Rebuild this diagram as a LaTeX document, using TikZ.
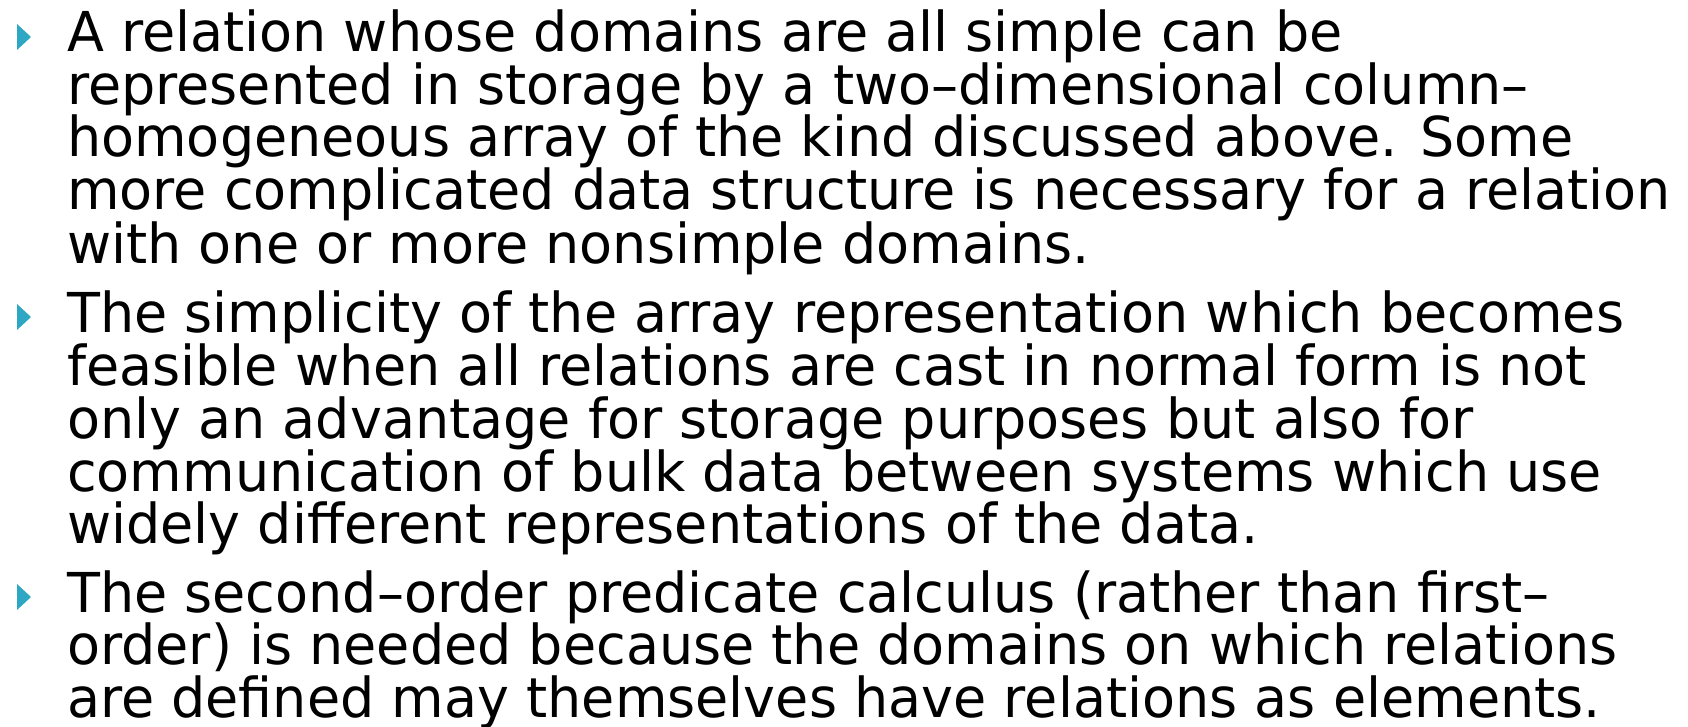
\documentclass[tikz,border=0pt]{standalone}
\usepackage{fontspec}
\setmainfont[FakeStretch=0.981]{DejaVu Sans}
\usepackage{tikz}
\definecolor{bullet}{HTML}{2EA7C4}

\begin{document}
\begin{tikzpicture}[x=1pt,y=-1pt]
    \tikzset{
        txt/.style={anchor=base west,inner sep=0pt,font=\fontsize{55}{60}\selectfont}
    }
    \useasboundingbox (0,0) rectangle (1688,727);
    % bullets
    \fill[bullet] (17,24) -- (31,37) -- (17,50) -- cycle;
    \fill[bullet] (17,304) -- (31,317) -- (17,330) -- cycle;
    \fill[bullet] (17,584) -- (31,597) -- (17,610) -- cycle;
    % first point
    \node[txt] at(67,52)(a1){A relation whose domains are all simple can be};
    \node[txt] at(67,105)(a2){represented in storage by a two–dimensional column–};
    \node[txt] at(67,157)(a3){homogeneous array of the kind discussed above. Some};
    \node[txt] at(67,210)(a4){more complicated data structure is necessary for a relation};
    \node[txt] at(67,263)(a5){with one or more nonsimple domains.};
    % second point
    \node[txt] at(67,332)(b1){The simplicity of the array representation which becomes};
    \node[txt] at(67,385)(b2){feasible when all relations are cast in normal form is not};
    \node[txt] at(67,438)(b3){only an advantage for storage purposes but also for};
    \node[txt] at(67,491)(b4){communication of bulk data between systems which use};
    \node[txt] at(67,543)(b5){widely different representations of the data.};
    % third point
    \node[txt] at(67,612)(c1){The second–order predicate calculus (rather than first–};
    \node[txt] at(67,664)(c2){order) is needed because the domains on which relations};
    \node[txt] at(67,717)(c3){are defined may themselves have relations as elements.};
\end{tikzpicture}
\end{document}
